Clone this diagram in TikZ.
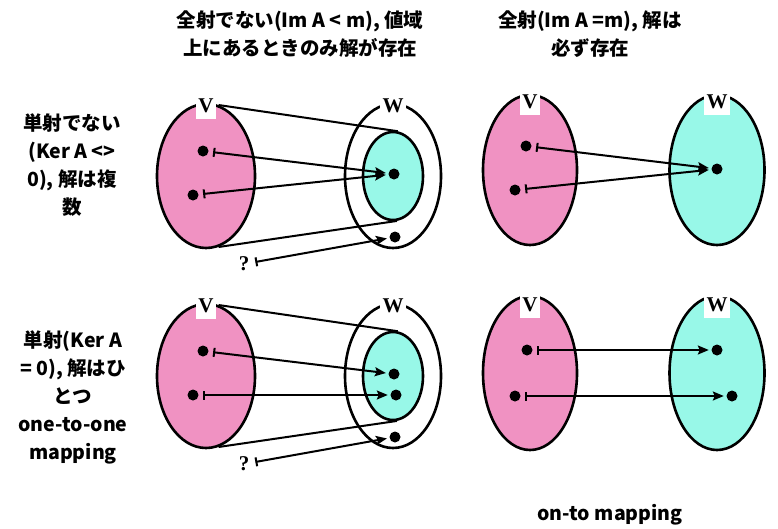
\documentclass[tikz,border=0pt]{standalone}
\usepackage{fontspec}
\newfontfamily\jp{Noto Sans CJK JP}
\newfontfamily\lbfont{Liberation Serif}
\usetikzlibrary{shapes.geometric,arrows.meta}
\definecolor{pinkfill}{RGB}{240,146,194}
\definecolor{cyanfill}{RGB}{152,248,232}
\begin{document}
\begin{tikzpicture}[x=1pt,y=-1pt,
  setell/.style={draw=black,line width=2.6pt,ellipse,inner sep=0pt},
  pinkell/.style={setell,fill=pinkfill},
  cyanell/.style={setell,fill=cyanfill},
  outerell/.style={setell,fill=white},
  dot/.style={circle,fill=black,inner sep=0pt,minimum size=11pt},
  setlabel/.style={fill=white,inner sep=2.5pt,minimum height=26pt,font=\lbfont\bfseries\fontsize{21}{21}\selectfont},
  mapsto/.style={line width=2pt,{Bar[width=9pt,line width=2pt]}-{Stealth[length=11pt,width=9pt,inset=2pt]},shorten <=4.5pt,shorten >=2.5pt},
  tline/.style={line width=2pt},
  qmark/.style={font=\lbfont\bfseries\fontsize{21}{21}\selectfont,inner sep=0pt},
  txt/.style={align=center,font=\jp\bfseries\fontsize{19.5}{28}\selectfont,inner sep=0pt}
]
\useasboundingbox (0,0) rectangle (778,528);

% ---------- texts ----------
\node[txt] (h1) at (300,34) {全射でない(Im A < m), 値域\\上にあるときのみ解が存在};
\node[txt] (h2) at (590,34) {全射(Im A =m), 解は\\必ず存在};
\node[txt] (l1) at (72,165) {単射でない\\(Ker A <>\\0), 解は複\\数};
\node[txt] (l2) at (73,397) {単射(Ker A\\= 0), 解はひ\\とつ\\one-to-one\\mapping};
\node[txt] (ft) at (610,515) {on-to mapping};

% ---------- panel A (top left) ----------
\node[pinkell,minimum width=98pt,minimum height=144pt] (aV) at (206,176) {};
\node[outerell,minimum width=96pt,minimum height=144pt] (aWo) at (393,176) {};
\node[cyanell,minimum width=60pt,minimum height=88pt] (aWi) at (393,176) {};
\node[setlabel] (aVl) at (206,106) {V};
\node[setlabel] (aWl) at (393,106) {W};
\draw[tline] (aV.80) -- (aWi.84);
\draw[tline] (aV.-80) -- (aWi.-85);
\node[dot] (a1) at (203,151) {};
\node[dot] (a2) at (193,195) {};
\node[dot] (at) at (394,174) {};
\node[dot] (aq) at (395,237) {};
\node[qmark] (aqs) at (244,264) {?};
\draw[mapsto] (a1) -- (at);
\draw[mapsto] (a2) -- (at);
\draw[mapsto,shorten <=6pt] (aqs) -- (aq);

% ---------- panel B (bottom left) ----------
\node[pinkell,minimum width=98pt,minimum height=144pt] (bV) at (206,376) {};
\node[outerell,minimum width=96pt,minimum height=144pt] (bWo) at (393,376) {};
\node[cyanell,minimum width=60pt,minimum height=88pt] (bWi) at (393,376) {};
\node[setlabel] (bVl) at (206,306) {V};
\node[setlabel] (bWl) at (393,306) {W};
\draw[tline] (bV.80) -- (bWi.84);
\draw[tline] (bV.-80) -- (bWi.-85);
\node[dot] (b1) at (203,351) {};
\node[dot] (b2) at (193,395) {};
\node[dot] (bt1) at (394,374) {};
\node[dot] (bt2) at (396,395) {};
\node[dot] (bq) at (395,437) {};
\node[qmark] (bqs) at (244,464) {?};
\draw[mapsto] (b1) -- (bt1);
\draw[mapsto] (b2) -- (bt2);
\draw[mapsto,shorten <=6pt] (bqs) -- (bq);

% ---------- panel C (top right) ----------
\node[pinkell,minimum width=94pt,minimum height=150pt] (cV) at (530,170) {};
\node[cyanell,minimum width=95pt,minimum height=150pt] (cW) at (717,170) {};
\node[setlabel] (cVl) at (530,102) {V};
\node[setlabel] (cWl) at (717,102) {W};
\node[dot] (c1) at (526,146) {};
\node[dot] (c2) at (515,190) {};
\node[dot] (ct) at (717,169) {};
\draw[mapsto] (c1) -- (ct);
\draw[mapsto] (c2) -- (ct);

% ---------- panel D (bottom right) ----------
\node[pinkell,minimum width=94pt,minimum height=154pt] (dV) at (530,373) {};
\node[cyanell,minimum width=95pt,minimum height=154pt] (dW) at (717,373) {};
\node[setlabel] (dVl) at (530,305) {V};
\node[setlabel] (dWl) at (717,305) {W};
\node[dot] (d1) at (527,350) {};
\node[dot] (d2) at (515,396) {};
\node[dot] (dt1) at (717,350) {};
\node[dot] (dt2) at (732,396) {};
\draw[mapsto] (d1) -- (dt1);
\draw[mapsto] (d2) -- (dt2);
\end{tikzpicture}
\end{document}
